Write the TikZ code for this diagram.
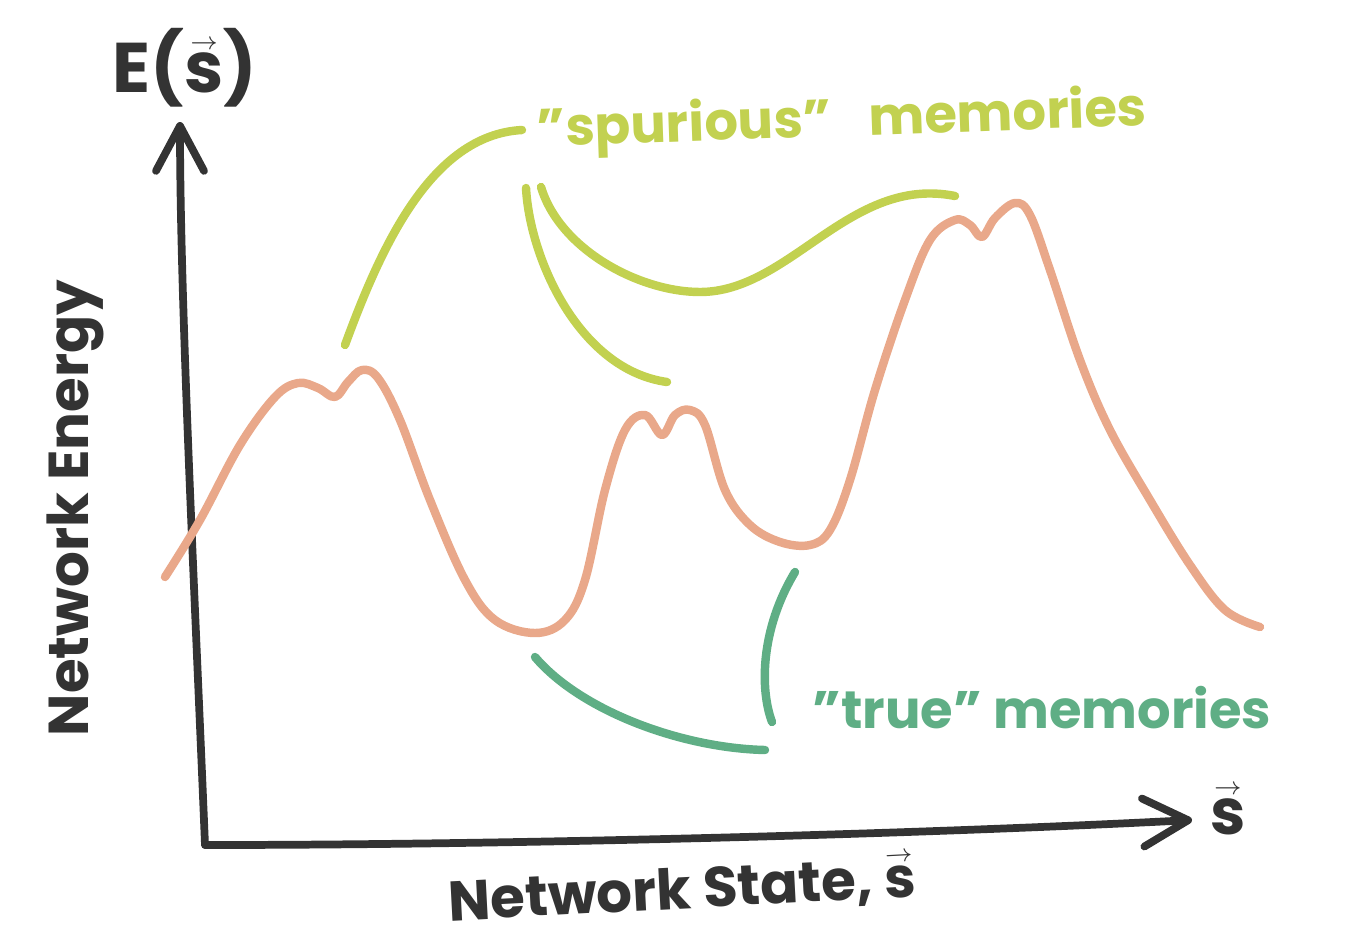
\documentclass[tikz,border=0pt]{standalone}
\usepackage{fontspec}
\setmainfont{Poppins}
\usepackage{xcolor}
\definecolor{ink}{RGB}{51,51,51}
\definecolor{salmon}{RGB}{233,168,138}
\definecolor{lime}{RGB}{194,209,80}
\definecolor{jade}{RGB}{95,174,133}
\usetikzlibrary{arrows.meta}

\tikzset{
  axis/.style={ink, line width=2.2pt, line cap=round, line join=round},
  axistip/.style={-{Straight Barb[length=4.5mm, width=4.8mm, line cap=round, line join=round]}},
  energy/.style={salmon, line width=2.4pt, line cap=round, line join=round},
  spurious/.style={lime, line width=2.4pt, line cap=round},
  truemem/.style={jade, line width=2.4pt, line cap=round},
  inktext/.style={text=ink, font=\fontsize{16}{19}\selectfont\bfseries, inner sep=0pt},
}
\newcommand{\svec}{\shortstack{\scriptsize$\rightarrow$\\[-2pt]s}}

\begin{document}
\begin{tikzpicture}[x=0.01cm, y=-0.01cm]
    \useasboundingbox (0,0) rectangle (1345,942);

    % Axes
    \coordinate (O) at (205,845);
    \coordinate (Ytip) at (180,122);
    \coordinate (Xtip) at (1192,820);
    \draw[axis, axistip] (O) .. controls (195,600) and (180,300) .. (Ytip);
    \draw[axis, axistip] (O) .. controls (500,845) and (900,835) .. (Xtip);

    % Axis labels
    \node[inktext, font=\fontsize{20}{24}\selectfont\bfseries] (elabel) at (185,68) {E(\svec)};
    \node[inktext, font=\fontsize{18}{22}\selectfont\bfseries] (slabel) at (1228,810) {\svec};
    \node[inktext, rotate=3] (xlabel) at (682,890) {Network State, \svec};
    \node[inktext, rotate=90] (ylabel) at (75,508) {Network Energy};

    % Energy landscape
    \draw[energy] plot[smooth, tension=0.6] coordinates {
      (165,577) (200,520) (240,445) (275,397) (298,383) (318,388) (335,397)
      (348,382) (362,370) (378,378) (400,420) (430,500) (465,580) (495,620)
      (535,633) (565,620) (585,580) (605,490) (625,430) (645,415) (662,435)
      (675,415) (690,410) (705,425) (725,490) (750,525) (780,542) (810,545)
      (830,530) (850,480) (875,390) (905,300) (930,240) (955,220) (970,225)
      (982,237) (995,218) (1015,203) (1030,215) (1050,270) (1080,360)
      (1110,430) (1150,500) (1190,565) (1225,610) (1260,627)};

    % "spurious" memories
    \node[inktext, text=lime, rotate=2, font=\fontsize{15}{18}\selectfont\bfseries] (spur) at (842,122) {"spurious"\enspace\ memories};
    \draw[spurious] (345,345) .. controls (380,250) and (430,135) .. (522,130);
    \draw[spurious] (526,188) .. controls (530,260) and (580,370) .. (667,382);
    \draw[spurious] (541,187) .. controls (560,250) and (640,292) .. (700,292)
                              .. controls (790,292) and (850,175) .. (955,196);

    % "true" memories
    \node[inktext, text=jade, font=\fontsize{15}{18}\selectfont\bfseries] (truelab) at (1042,708) {"true" memories};
    \draw[truemem] (535,657) .. controls (580,710) and (680,748) .. (765,750);
    \draw[truemem] (795,572) .. controls (760,630) and (760,690) .. (772,722);
\end{tikzpicture}
\end{document}
